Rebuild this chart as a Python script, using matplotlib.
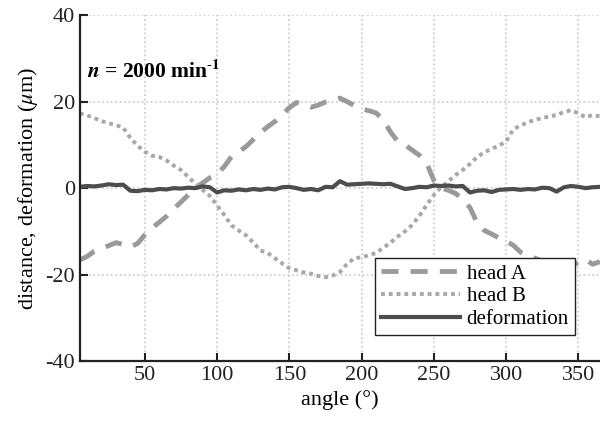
import numpy as np
import matplotlib
matplotlib.use("Agg")
import matplotlib.pyplot as plt

# angle grid (deg)
angle = list(range(5, 366, 5))

head_a = [
    -16.6, -15.8, -14.6, -14.0, -13.3, -12.6, -13.0, -13.6, -12.8, -10.8,
    -9.2, -7.9, -6.5, -4.8, -3.2, -1.6, 0.1, 1.2, 2.4, 3.2,
    5.0, 7.3, 8.4, 9.6, 11.2, 12.8, 14.2, 15.4, 17.0, 18.6,
    19.8, 19.3, 18.7, 19.2, 19.9, 20.3, 20.8, 20.0, 19.1, 18.4,
    17.9, 17.4, 15.8, 13.0, 10.8, 10.0, 8.8, 7.6, 5.8, 1.8,
    0.0, -0.5, -1.2, -2.6, -4.5, -8.0, -9.8, -10.6, -11.5, -12.3,
    -13.2, -14.8, -15.6, -16.2, -16.8, -17.3, -17.6, -18.0, -17.9, -17.2,
    -16.5, -17.6, -17.0,
]

head_b = [
    17.3, 16.8, 16.2, 15.5, 15.0, 14.6, 14.0, 11.6, 9.8, 8.4,
    7.5, 7.2, 6.4, 5.2, 4.2, 2.6, 1.0, -0.4, -1.8, -4.0,
    -6.2, -8.6, -9.8, -10.9, -12.6, -14.4, -15.0, -16.2, -17.4, -18.5,
    -19.0, -19.5, -19.8, -20.3, -20.6, -20.2, -19.4, -17.5, -16.2, -16.0,
    -15.5, -15.0, -13.8, -12.6, -11.2, -10.0, -8.5, -6.4, -3.9, -1.6,
    0.2, 1.6, 3.0, 4.2, 5.6, 7.2, 8.3, 9.1, 9.8, 10.8,
    13.6, 14.5, 15.2, 15.8, 16.2, 16.6, 16.9, 17.6, 18.0, 17.3,
    16.4, 16.9, 16.6,
]

deformation = [
    0.3, 0.5, 0.4, 0.6, 0.9, 0.7, 0.8, -0.6, -0.7, -0.4,
    -0.5, -0.2, -0.3, 0.0, -0.1, 0.1, 0.0, 0.4, 0.2, -1.0,
    -0.5, -0.6, -0.3, -0.5, -0.2, -0.4, -0.1, -0.3, 0.2, 0.3,
    0.0, -0.4, -0.2, -0.5, 0.3, 0.2, 1.6, 0.8, 0.9, 1.0,
    1.1, 1.0, 0.9, 1.0, 0.4, -0.2, 0.0, 0.3, 0.2, 0.6,
    0.5, 0.6, 0.4, 0.5, -1.0, -0.6, -0.5, -0.9, -0.4, -0.3,
    -0.2, -0.4, -0.2, -0.3, 0.1, 0.0, -0.8, 0.2, 0.5, 0.3,
    0.0, 0.2, 0.3,
]

x_ticks = [50, 100, 150, 200, 250, 300, 350]
y_ticks = [-40, -20, 0, 20, 40]

plt.rcParams["font.family"] = ["Liberation Serif", "DejaVu Serif"]
plt.rcParams["mathtext.fontset"] = "stix"
plt.rcParams["axes.unicode_minus"] = False

fig = plt.figure(figsize=(6, 4.32), dpi=100)
ax = fig.add_axes([0.133, 0.164, 0.867, 0.801])

ax.plot(angle, head_a, color="#9a9a9a", lw=3.5, dashes=(3.5, 2.5), label="head A")
ax.plot(angle, head_b, color="#a8a8a8", lw=2.8, dashes=(1.0, 1.0), label="head B")
ax.plot(angle, deformation, color="#4d4d4d", lw=3.0, label="deformation")

ax.set_xlim(5, 365)
ax.set_ylim(-40, 40)
ax.set_xticks(x_ticks)
ax.set_yticks(y_ticks)
ax.grid(True, color="#c8c8c8", linestyle=":", linewidth=1.2)
ax.set_axisbelow(True)

for s in ["top", "right"]:
    ax.spines[s].set_visible(False)
for s in ["left", "bottom"]:
    ax.spines[s].set_linewidth(1.6)
    ax.spines[s].set_color("#222222")

ax.tick_params(direction="in", length=6, width=1.5, labelsize=16, colors="#222222")
ax.set_xlabel("angle (°)", fontsize=16)
ax.set_ylabel(r"distance, deformation ($\mu$m)", fontsize=16)

ax.text(10, 27, r"$\mathbfit{n}$ = 2000 min$^{\mathbf{\text{-}1}}$", fontsize=15.5,
        fontweight="bold", ha="left", va="center")

leg = ax.legend(loc="lower right", bbox_to_anchor=(0.952, 0.075), fontsize=15,
                frameon=True, fancybox=False, framealpha=1, edgecolor="#222222",
                handlelength=3.8, borderpad=0.3, labelspacing=0.15, handletextpad=0.3,
                borderaxespad=0)
leg.get_frame().set_linewidth(1.0)

fig.savefig("out.png", dpi=100)
